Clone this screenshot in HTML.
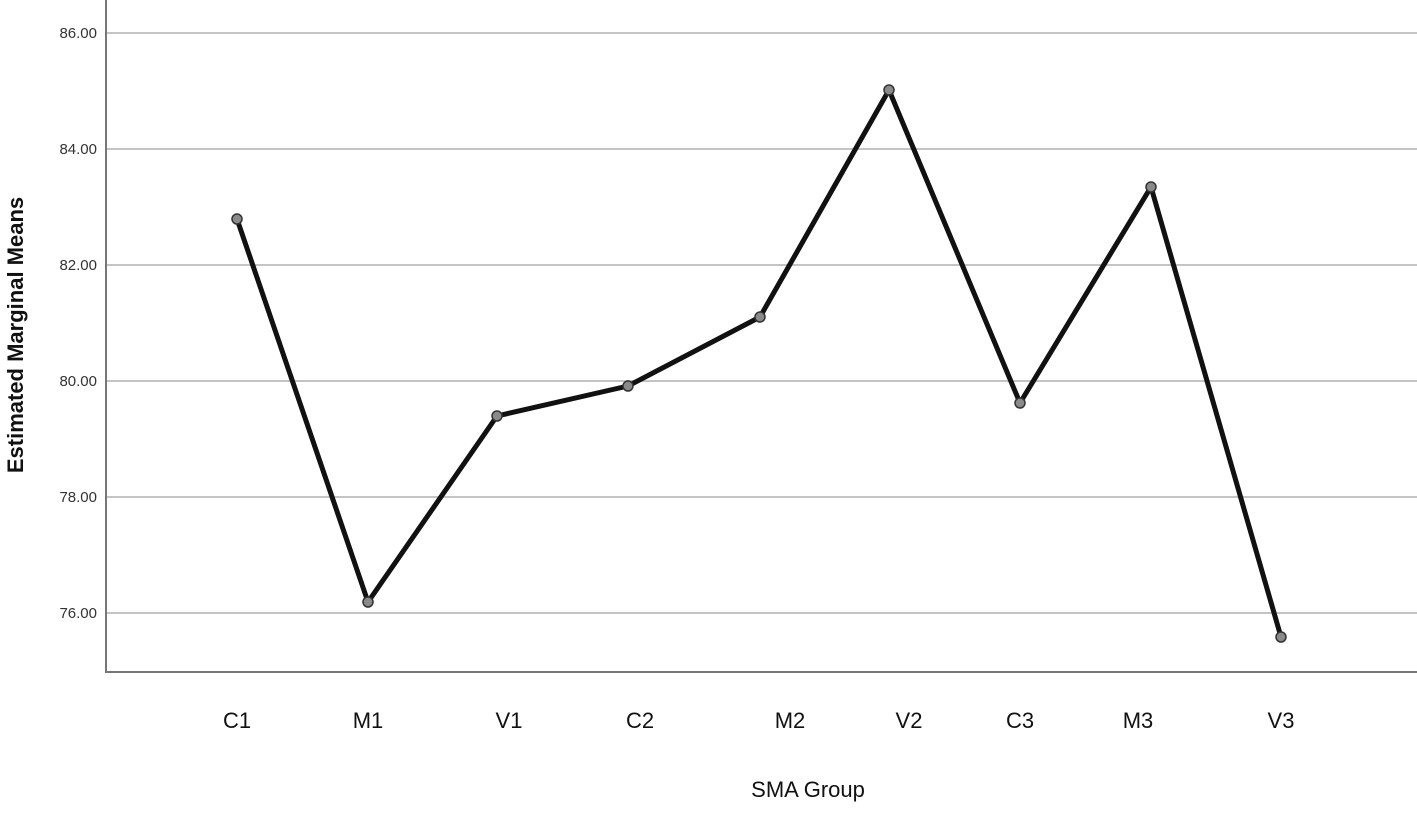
<!DOCTYPE html>
<html><head><style>body{margin:0;background:#fff}</style></head><body>
<svg width="1417" height="816" xmlns="http://www.w3.org/2000/svg" font-family="Liberation Sans, Arial, sans-serif">
<rect width="1417" height="816" fill="#fff"/>
<g stroke="#c4c4c4" stroke-width="2">
<line x1="107" y1="33" x2="1417" y2="33"/>
<line x1="107" y1="149" x2="1417" y2="149"/>
<line x1="107" y1="265" x2="1417" y2="265"/>
<line x1="107" y1="381" x2="1417" y2="381"/>
<line x1="107" y1="497" x2="1417" y2="497"/>
<line x1="107" y1="613" x2="1417" y2="613"/>
</g>
<g stroke="#777" stroke-width="2">
<line x1="106" y1="0" x2="106" y2="673"/>
<line x1="106" y1="672" x2="1417" y2="672"/>
</g>
<g font-size="15" fill="#333" text-anchor="end">
<text x="97" y="38">86.00</text>
<text x="97" y="154">84.00</text>
<text x="97" y="270">82.00</text>
<text x="97" y="386">80.00</text>
<text x="97" y="502">78.00</text>
<text x="97" y="618">76.00</text>
</g>
<g font-size="22" fill="#111" text-anchor="middle">
<text x="237" y="728">C1</text><text x="368" y="728">M1</text><text x="509" y="728">V1</text>
<text x="640" y="728">C2</text><text x="790" y="728">M2</text><text x="909" y="728">V2</text>
<text x="1020" y="728">C3</text><text x="1138" y="728">M3</text><text x="1281" y="728">V3</text>
<text x="808" y="797">SMA Group</text>
</g>
<text transform="translate(23,335) rotate(-90)" font-size="22" font-weight="bold" fill="#111" text-anchor="middle">Estimated Marginal Means</text>
<polyline fill="none" stroke="#111" stroke-width="5" stroke-linejoin="round" points="237,219 368,602 497,416 628,386 760,317 889,90 1020,403 1151,187 1281,637"/>
<g fill="#8a8a8a" stroke="#333" stroke-width="1.5">
<circle cx="237" cy="219" r="5"/><circle cx="368" cy="602" r="5"/><circle cx="497" cy="416" r="5"/>
<circle cx="628" cy="386" r="5"/><circle cx="760" cy="317" r="5"/><circle cx="889" cy="90" r="5"/>
<circle cx="1020" cy="403" r="5"/><circle cx="1151" cy="187" r="5"/><circle cx="1281" cy="637" r="5"/>
</g>
</svg>
</body></html>
